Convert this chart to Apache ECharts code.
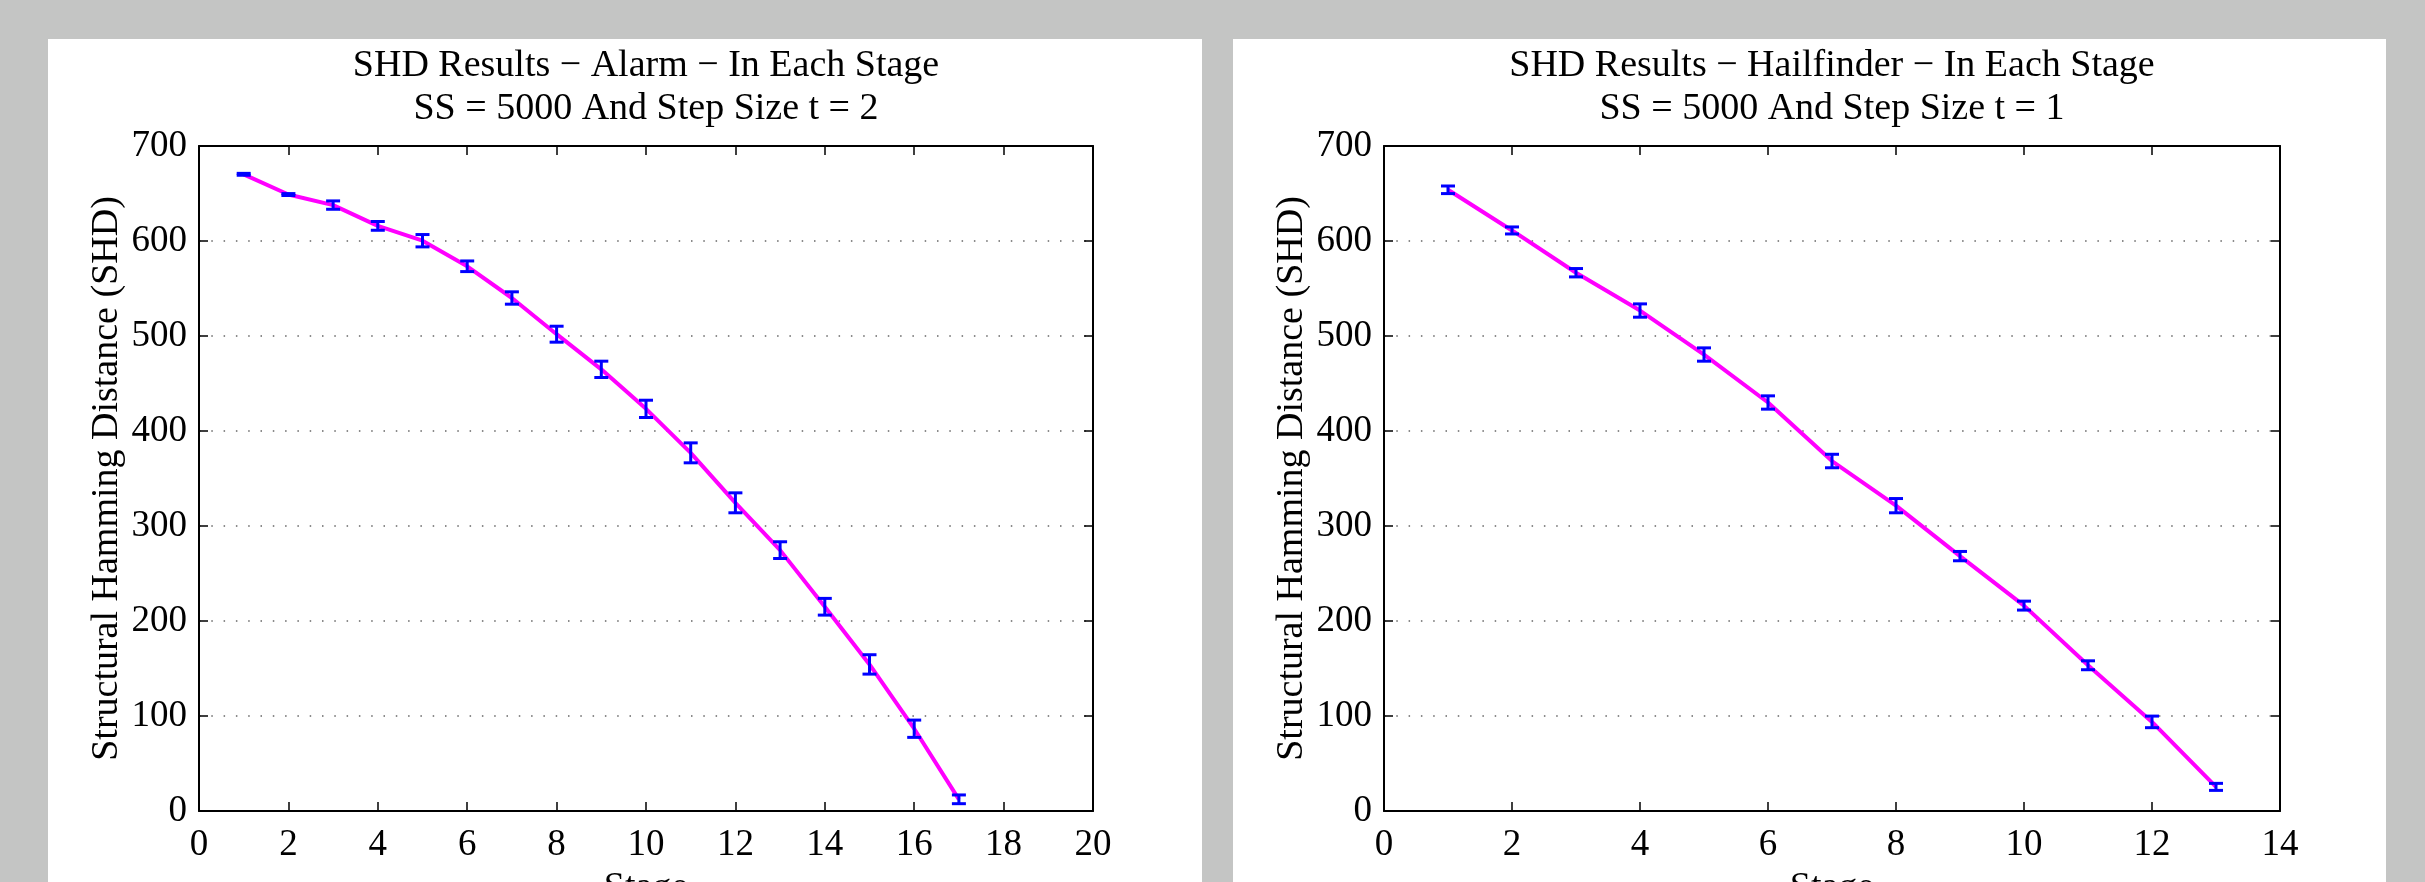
<!DOCTYPE html>
<html>
<head>
<meta charset="utf-8">
<script src="https://cdn.jsdelivr.net/npm/echarts@6/dist/echarts.min.js"></script>
<style>
html,body{margin:0;padding:0;background:#c4c5c4;overflow:hidden;}
#chart{width:2425px;height:882px;}
</style>
</head>
<body>
<div id="chart"></div>
<script>
// ---- data ----
const alarmStages = [1,2,3,4,5,6,7,8,9,10,11,12,13,14,15,16,17];
const alarmSHD    = [670.2,648.9,637.8,615.9,600.3,573.4,540,501.9,464.9,423.3,377,324.4,274.6,215,154.3,86.6,12.3];
const alarmErr    = [1,1,4.4,4.6,6.5,5.6,6.5,8.4,8.6,9.1,10.5,10.5,8.8,8.8,10.2,9.1,4.6];

const hailStages = [1,2,3,4,5,6,7,8,9,10,11,12,13];
const hailSHD    = [653.9,611.1,566.6,526.8,480.5,430,368.4,321.4,268.3,216.2,153.4,93.8,25.4];
const hailErr    = [4,3.7,4.4,7,7,7,7.1,7.5,4.9,4.7,4.7,6.1,3.7];

const titles = [
  "SHD Results \u2212 Alarm \u2212 In Each Stage\nSS = 5000 And Step Size t = 2",
  "SHD Results \u2212 Hailfinder \u2212 In Each Stage\nSS = 5000 And Step Size t = 1"
];
const xMaxes = [20, 14];
const xName = "Stage";
const yName = "Structural Hamming Distance (SHD)";

// ---- layout ----
const FONT = "Liberation Serif";
const panels = [{x:48,w:1154},{x:1233,w:1153}];
const grids = [{left:199,top:146,width:894,height:665},{left:1384,top:146,width:896,height:665}];

const chart = echarts.init(document.getElementById('chart'), null, {renderer:'canvas'});

function xAxes(i){
  const base = {
    type:'value', gridIndex:i, min:0, max:xMaxes[i], interval:2,
    axisLine:{show:true,onZero:false,lineStyle:{color:'#000',width:2}},
    axisTick:{show:true,inside:true,length:9,lineStyle:{color:'#000',width:1.5}},
    splitLine:{show:false}
  };
  return [
    Object.assign({}, base, {
      position:'bottom',
      axisLabel:{show:true,margin:16,color:'#000',fontFamily:FONT,fontSize:37},
      name:xName, nameLocation:'middle', nameGap:48,
      nameTextStyle:{color:'#000',fontFamily:FONT,fontSize:38,verticalAlign:'top'}
    }),
    Object.assign({}, base, {position:'top',axisLabel:{show:false}})
  ];
}
function yAxes(i){
  const base = {
    type:'value', gridIndex:i, min:0, max:700, interval:100,
    axisLine:{show:true,onZero:false,lineStyle:{color:'#000',width:2}},
    axisTick:{show:true,inside:true,length:9,lineStyle:{color:'#000',width:1.5}}
  };
  return [
    Object.assign({}, base, {
      position:'left',
      axisLabel:{show:true,margin:12,color:'#000',fontFamily:FONT,fontSize:37},
      splitLine:{show:true,lineStyle:{color:'#666',width:1.5,type:[1.5,10.8]}},
      name:yName, nameLocation:'middle', nameGap:73,
      nameTextStyle:{color:'#000',fontFamily:FONT,fontSize:38}
    }),
    Object.assign({}, base, {position:'right',axisLabel:{show:false},splitLine:{show:false}})
  ];
}

function errSeries(idx, stages, vals, errs){
  const data = stages.map((s,k)=>[s, vals[k]-errs[k], vals[k]+errs[k]]);
  return {
    type:'custom', xAxisIndex:idx*2, yAxisIndex:idx*2, z:5, silent:true,
    data:data,
    renderItem:function(params, api){
      const x = api.value(0);
      const lo = api.coord([x, api.value(1)]);
      const hi = api.coord([x, api.value(2)]);
      const hw = 7;
      const st = {stroke:'#0000ff', lineWidth:3, fill:null};
      return {type:'group', children:[
        {type:'line', shape:{x1:lo[0],y1:lo[1],x2:hi[0],y2:hi[1]}, style:st},
        {type:'line', shape:{x1:lo[0]-hw,y1:lo[1],x2:lo[0]+hw,y2:lo[1]}, style:st},
        {type:'line', shape:{x1:hi[0]-hw,y1:hi[1],x2:hi[0]+hw,y2:hi[1]}, style:st}
      ]};
    }
  };
}
function lineSeries(idx, stages, vals){
  return {
    type:'line', xAxisIndex:idx*2, yAxisIndex:idx*2, z:3, silent:true,
    data:stages.map((s,k)=>[s, vals[k]]),
    showSymbol:false, symbol:'none',
    lineStyle:{color:'#ff00ff', width:4}
  };
}

const option = {
  backgroundColor:'#c4c5c4',
  animation:false,
  graphic:panels.map(p=>({type:'rect', z:-10, shape:{x:p.x,y:39,width:p.w,height:900}, style:{fill:'#fff'}})),
  title:titles.map((t,i)=>({
    text:t, left:grids[i].left + grids[i].width/2, top:45, textAlign:'center', padding:0,
    textStyle:{color:'#000',fontFamily:FONT,fontSize:38,fontWeight:'normal',lineHeight:43}
  })),
  grid:grids.map(g=>Object.assign({containLabel:false, outerBoundsMode:'none', show:false}, g)),
  xAxis:[].concat(xAxes(0), xAxes(1)),
  yAxis:[].concat(yAxes(0), yAxes(1)),
  series:[
    lineSeries(0, alarmStages, alarmSHD),
    errSeries(0, alarmStages, alarmSHD, alarmErr),
    lineSeries(1, hailStages, hailSHD),
    errSeries(1, hailStages, hailSHD, hailErr)
  ]
};
chart.setOption(option);
</script>
</body>
</html>
